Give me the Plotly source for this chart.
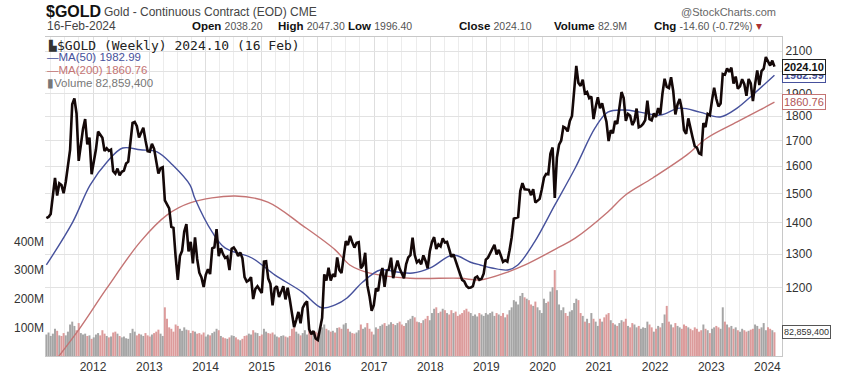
import plotly.graph_objects as go
import pandas as pd
import math

# ---------------- data ----------------
first_bar = "2011-03-04"          # bi-weekly samples, 14 days apart, last = 16-Feb-2024

close_2011 = [1415, 1419, 1429, 1486, 1556, 1493, 1536, 1530, 1501, 1542, 1602, 1663, 1852, 1877, 1812, 1620, 1682, 1747, 1788, 1684, 1712, 1570]
close_2012 = [1617, 1664, 1736, 1725, 1711, 1658, 1669, 1659, 1664, 1581, 1572, 1591, 1566, 1579, 1583, 1610, 1617, 1691, 1772, 1776, 1758, 1712, 1731, 1752, 1701, 1658]
close_2013 = [1656, 1687, 1667, 1609, 1572, 1592, 1596, 1476, 1462, 1448, 1386, 1383, 1292, 1223, 1294, 1310, 1371, 1395, 1308, 1338, 1272, 1352, 1285, 1244, 1230, 1203]
close_2014 = [1238, 1254, 1240, 1318, 1321, 1379, 1294, 1318, 1300, 1288, 1292, 1252, 1316, 1320, 1310, 1294, 1305, 1287, 1231, 1218, 1222, 1231, 1169, 1197, 1205, 1196]
close_2015 = [1186, 1277, 1278, 1227, 1212, 1152, 1199, 1205, 1175, 1189, 1205, 1168, 1201, 1168, 1131, 1094, 1113, 1134, 1104, 1145, 1156, 1163, 1088, 1076, 1084, 1065]
close_2016 = [1061, 1090, 1118, 1239, 1221, 1259, 1221, 1240, 1232, 1290, 1252, 1243, 1298, 1340, 1328, 1357, 1337, 1320, 1335, 1337, 1257, 1266, 1304, 1208, 1177, 1137, 1152]
close_2017 = [1199, 1191, 1235, 1258, 1203, 1250, 1254, 1289, 1228, 1255, 1280, 1256, 1242, 1228, 1269, 1290, 1297, 1351, 1297, 1275, 1281, 1269, 1296, 1280, 1257, 1309]
close_2018 = [1338, 1353, 1316, 1330, 1324, 1349, 1336, 1338, 1315, 1291, 1299, 1278, 1254, 1241, 1223, 1219, 1206, 1200, 1201, 1205, 1229, 1233, 1223, 1226, 1241, 1283]
close_2019 = [1289, 1303, 1318, 1329, 1299, 1313, 1295, 1276, 1281, 1277, 1311, 1352, 1413, 1415, 1419, 1509, 1537, 1515, 1515, 1513, 1494, 1515, 1468, 1473, 1481, 1515]
close_2020 = [1557, 1571, 1570, 1648, 1672, 1484, 1633, 1683, 1700, 1756, 1751, 1737, 1780, 1801, 1897, 2028, 1947, 1934, 1962, 1900, 1906, 1879, 1886, 1788, 1840, 1883]
close_2021 = [1835, 1856, 1813, 1777, 1698, 1742, 1729, 1780, 1768, 1838, 1906, 1879, 1781, 1810, 1802, 1763, 1781, 1833, 1754, 1758, 1768, 1784, 1868, 1788, 1783, 1812]
close_2022 = [1797, 1835, 1807, 1899, 1967, 1929, 1924, 1974, 1911, 1808, 1851, 1875, 1830, 1742, 1727, 1791, 1747, 1712, 1677, 1672, 1649, 1645, 1771, 1755, 1810, 1804]
close_2023 = [1869, 1926, 1876, 1842, 1855, 1989, 1986, 2015, 1999, 2019, 1944, 1977, 1921, 1932, 1965, 1942, 1889, 1966, 1945, 1866, 1941, 2006, 1938, 2003, 2014, 2070]
close_2024 = [2049, 2029, 2053, 2024.10]

vol_2011 = [75, 82, 70, 78, 95, 88, 72, 70, 80, 72, 85, 110, 120, 105, 90, 115, 80, 75, 78, 70, 72, 60]
vol_2012 = [65, 75, 80, 72, 90, 78, 70, 65, 68, 82, 85, 78, 70, 65, 68, 62, 60, 80, 95, 85, 72, 78, 75, 70, 80, 72]
vol_2013 = [68, 75, 80, 85, 92, 78, 70, 170, 130, 100, 95, 85, 110, 105, 95, 88, 100, 92, 90, 80, 88, 85, 78, 80, 75, 82]
vol_2014 = [68, 75, 72, 80, 85, 95, 90, 70, 65, 62, 60, 65, 72, 70, 65, 58, 55, 60, 70, 72, 78, 75, 90, 82, 80, 70]
vol_2015 = [75, 95, 85, 80, 78, 82, 75, 68, 65, 70, 72, 68, 65, 70, 95, 100, 85, 78, 72, 80, 90, 75, 88, 82, 78, 85]
vol_2016 = [80, 95, 100, 110, 95, 90, 85, 88, 82, 98, 100, 95, 110, 115, 95, 85, 80, 78, 82, 90, 110, 95, 100, 115, 95, 85, 75]
vol_2017 = [100, 95, 105, 110, 115, 105, 110, 118, 112, 108, 115, 120, 110, 105, 115, 125, 130, 140, 135, 120, 118, 115, 125, 130, 140, 125]
vol_2018 = [150, 165, 170, 150, 155, 165, 160, 150, 145, 160, 150, 155, 140, 145, 150, 160, 165, 155, 150, 140, 145, 138, 150, 145, 140, 150]
vol_2019 = [145, 150, 155, 140, 150, 145, 140, 150, 135, 145, 160, 170, 195, 190, 180, 210, 220, 205, 200, 195, 180, 175, 190, 170, 160, 150]
vol_2020 = [200, 185, 190, 225, 240, 300, 230, 180, 160, 170, 150, 140, 155, 160, 185, 200, 195, 150, 140, 120, 130, 115, 150, 130, 120, 105]
vol_2021 = [130, 120, 135, 145, 150, 125, 115, 110, 105, 115, 125, 120, 130, 105, 100, 115, 110, 100, 105, 95, 100, 98, 120, 110, 100, 85]
vol_2022 = [95, 105, 100, 115, 145, 175, 120, 110, 100, 115, 105, 100, 95, 110, 105, 100, 95, 90, 100, 95, 85, 90, 110, 95, 90, 80]
vol_2023 = [95, 100, 105, 100, 95, 170, 120, 110, 100, 105, 95, 100, 90, 85, 95, 90, 85, 88, 92, 95, 110, 105, 95, 100, 115, 90]
vol_2024 = [100, 95, 90, 82.859]

ma50_dates = ["2011-03-04", "2011-08-22", "2011-12-13", "2012-04-01", "2012-07-12", "2012-11-03",
              "2013-02-20", "2013-06-02", "2013-09-23", "2013-10-23", "2014-02-14", "2014-05-08",
              "2014-10-30", "2015-03-29", "2015-09-20", "2016-01-27", "2016-04-23", "2016-07-09",
              "2016-10-19", "2017-02-10", "2017-05-30", "2017-09-09", "2018-01-01", "2018-05-29",
              "2018-09-16", "2018-11-21", "2019-02-06", "2019-05-19", "2019-07-24", "2019-11-10",
              "2020-03-21", "2020-07-31", "2020-12-07", "2021-02-28", "2021-06-21", "2021-09-24",
              "2022-02-03", "2022-06-10", "2022-10-19", "2023-02-28", "2023-06-18", "2023-09-27",
              "2024-02-16"]
ma50_vals = [1267, 1402, 1530, 1616, 1670, 1663,
             1655, 1604, 1530, 1484, 1369, 1319,
             1288, 1237, 1189, 1145, 1153, 1172,
             1217, 1252, 1246, 1243, 1258, 1297,
             1276, 1267, 1258, 1252, 1267, 1338,
             1460, 1593, 1751, 1818, 1827, 1818,
             1805, 1835, 1818, 1797, 1835, 1893,
             1982.99]

ma200_dates = ["2011-05-19", "2011-10-09", "2012-04-01", "2012-11-03", "2013-04-27", "2013-09-23",
               "2014-07-12", "2015-02-10", "2015-09-20", "2016-04-23", "2016-07-27", "2016-12-05",
               "2017-08-22", "2018-07-12", "2018-11-21", "2019-05-19", "2019-09-09", "2020-04-08",
               "2020-07-31", "2021-02-28", "2021-06-21", "2021-12-17", "2022-07-27", "2022-12-05",
               "2023-06-18", "2023-11-14", "2024-02-16"]
ma200_vals = [1019, 1092, 1200, 1338, 1426, 1467,
              1491, 1470, 1392, 1313, 1267, 1243,
              1228, 1228, 1223, 1246, 1267, 1319,
              1350, 1436, 1494, 1556, 1643, 1710,
              1776, 1827, 1860.76]

price_ticks = [1200, 1300, 1400, 1500, 1600, 1700, 1800, 1900, 2000, 2100]
price_tick_text = ["1200", "1300", "1400", "1500", "1600", "1700", "1800", "1900", "", "2100"]  # 2000 hidden behind tags
vol_ticks = [100e6, 200e6, 300e6, 400e6]
vol_tick_text = ["100M", "200M", "300M", "400M"]

# ---------------- assemble ----------------
close = (close_2011 + close_2012 + close_2013 + close_2014 + close_2015 + close_2016 + close_2017 +
         close_2018 + close_2019 + close_2020 + close_2021 + close_2022 + close_2023 + close_2024)
volume_m = (vol_2011 + vol_2012 + vol_2013 + vol_2014 + vol_2015 + vol_2016 + vol_2017 +
            vol_2018 + vol_2019 + vol_2020 + vol_2021 + vol_2022 + vol_2023 + vol_2024)
assert len(close) == len(volume_m), (len(close), len(volume_m))
dates = pd.date_range(start=first_bar, periods=len(close), freq="14D")
volume = [v * 1e6 for v in volume_m]

vol_colors = []
for i, c in enumerate(close):
    up = i == 0 or c >= close[i - 1]
    vol_colors.append("rgba(160,160,160,0.95)" if up else "rgba(218,150,150,0.95)")

FONT = "Liberation Sans, Arial, sans-serif"
MA50_C = "#46519c"
MA200_C = "#c47474"

fig = go.Figure()
fig.add_trace(go.Bar(x=dates, y=volume, marker=dict(color=vol_colors, line=dict(width=0)),
                     yaxis="y", hoverinfo="skip"))
fig.add_trace(go.Scatter(x=pd.to_datetime(ma200_dates), y=ma200_vals, mode="lines",
                         line=dict(color=MA200_C, width=1.4, shape="spline", smoothing=1.0),
                         yaxis="y2"))
fig.add_trace(go.Scatter(x=pd.to_datetime(ma50_dates), y=ma50_vals, mode="lines",
                         line=dict(color=MA50_C, width=1.4, shape="spline", smoothing=1.0),
                         yaxis="y2"))
fig.add_trace(go.Scatter(x=dates, y=close, mode="lines",
                         line=dict(color="#140808", width=2.6), yaxis="y2"))

L, R, T, B, W, H = 45, 66, 37, 23, 848, 379
PW, PH = W - L - R, H - T - B


def px(xp):
    return (xp - L) / PW


def py(yp):
    return (H - B - yp) / PH


ann = []


def add(text, x, y, size=12, color="#222", anchor="left", family=FONT, **kw):
    ann.append(dict(text=text, x=px(x), y=py(y), xref="paper", yref="paper",
                    xanchor=anchor, yanchor="middle", showarrow=False,
                    font=dict(size=size, color=color, family=family), **kw))


VAL = "<span style='font-size:10.5px;color:#555'>%s</span>"
add("<b>$GOLD</b>", 44, 11, size=16, color="#111")
add("Gold - Continuous Contract (EOD) CME", 102, 12, size=12, color="#444")
add("@StockCharts.com", 778, 12, size=11, color="#666", anchor="right")
add("16-Feb-2024", 45, 26, size=12, color="#444")
add("<b>Open</b> " + VAL % "2038.20", 190, 26, size=11.5, color="#111")
add("<b>High</b> " + VAL % "2047.30", 276, 26, size=11.5, color="#111")
add("<b>Low</b> " + VAL % "1996.40", 346, 26, size=11.5, color="#111")
add("<b>Close</b> " + VAL % "2024.10", 457, 26, size=11.5, color="#111")
add("<b>Volume</b> " + VAL % "82.9M", 552, 26, size=11.5, color="#111")
add("<b>Chg</b> " + VAL % "-14.60 (-0.72%)" + " <span style='color:#a33'>▾</span>",
    652, 26, size=11.5, color="#111")

add("▙", 46, 45, size=10, color="#333", family="DejaVu Sans")
add("$GOLD (Weekly) 2024.10 (16 Feb)", 55, 45, size=13, color="#222", family="DejaVu Sans Mono")
add("—MA(50) 1982.99", 45, 57, size=11.5, color=MA50_C)
add("—MA(200) 1860.76", 45, 70, size=11.5, color=MA200_C)
add("▮Volume 82,859,400", 45, 83, size=11.5, color="#777")


def tag(text, val, yref, color, textcolor, bold=False, size=11):
    ann.append(dict(text=("<b>%s</b>" % text) if bold else text, x=1.0, xref="paper", xanchor="left",
                    y=val, yref=yref, yanchor="middle", showarrow=False,
                    font=dict(size=size, color=textcolor, family=FONT),
                    bgcolor="white", bordercolor=color, borderwidth=1, borderpad=1))


tag("1982.99", math.log10(ma50_vals[-1]), "y2", MA50_C, MA50_C, bold=True)
tag("2024.10", math.log10(close[-1]), "y2", "#222", "#111", bold=True)
tag("1860.76", math.log10(ma200_vals[-1]), "y2", MA200_C, "#b05555")
tag("82,859,400", volume[-1], "y", "#555", "#333", size=9)

fig.update_layout(
    width=W, height=H, margin=dict(l=L, r=R, t=T, b=B, autoexpand=False),
    paper_bgcolor="white", plot_bgcolor="white", showlegend=False, bargap=0.08,
    annotations=ann,
    xaxis=dict(type="date", range=["2011-02-23", "2024-04-05"], tick0="2012-01-01", dtick="M12",
               tickformat="%Y", ticks="", showgrid=True, gridcolor="#dedede", gridwidth=1,
               minor=dict(dtick="M3", tick0="2012-01-01", showgrid=True, gridcolor="#ececec"),
               tickfont=dict(size=12, color="#333", family=FONT),
               showline=True, linecolor="#c8c8c8", mirror=True, zeroline=False, automargin=False),
    yaxis=dict(range=[0, 1114e6], side="left", tickvals=vol_ticks, ticktext=vol_tick_text,
               showgrid=False, zeroline=False, ticks="", showline=False, automargin=False,
               tickfont=dict(size=12, color="#333", family=FONT)),
    yaxis2=dict(type="log", overlaying="y", side="right", range=[3.0094, 3.3366],
                tickvals=price_ticks, ticktext=price_tick_text,
                showgrid=True, gridcolor="#e2e2e2", zeroline=False, ticks="",
                showline=True, linecolor="#c8c8c8", automargin=False,
                tickfont=dict(size=12, color="#333", family=FONT)),
)

fig.write_html("out.html", config={"displayModeBar": False},
               post_script="document.body.style.margin='0';")
